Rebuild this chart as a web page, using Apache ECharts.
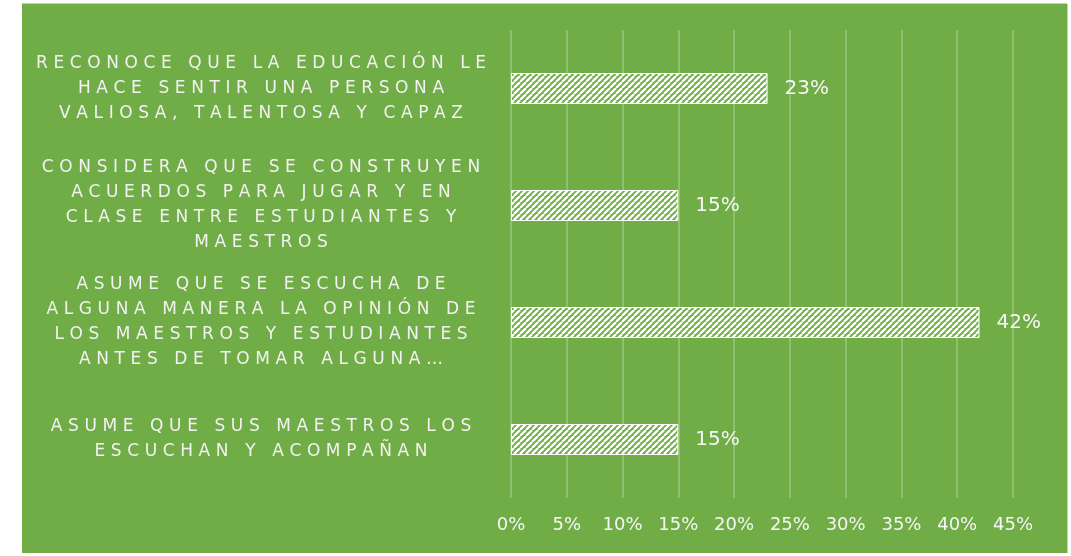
<!DOCTYPE html>
<html><head><meta charset="utf-8">
<script src="https://cdn.jsdelivr.net/npm/echarts@6/dist/echarts.min.js"></script>
<style>
html,body{margin:0;padding:0;background:#fff;width:1071px;height:556px;overflow:hidden;}
#frame{position:absolute;left:22px;top:4px;width:1045px;height:549px;background:#70AD47;box-shadow:0 -1px 0 #c9c9c9, 1px 0 0 #c9c9c9;}
#chart{width:100%;height:100%;}
</style></head><body>
<div id="frame"><div id="chart"></div></div>
<script>
const categories = [
  'RECONOCE QUE LA EDUCACIÓN LE\nHACE SENTIR UNA PERSONA\nVALIOSA, TALENTOSA Y CAPAZ',
  'CONSIDERA QUE SE CONSTRUYEN\nACUERDOS PARA JUGAR Y EN\nCLASE ENTRE ESTUDIANTES Y\nMAESTROS',
  'ASUME QUE SE ESCUCHA DE\nALGUNA MANERA LA OPINIÓN DE\nLOS MAESTROS Y ESTUDIANTES\nANTES DE TOMAR ALGUNA…',
  'ASUME QUE SUS MAESTROS LOS\nESCUCHAN Y ACOMPAÑAN'
];
const values = [0.23, 0.15, 0.42, 0.15];
const axisMin = 0, axisMax = 0.45, axisStep = 0.05;

function pct(v){ return Math.round(v * 100) + '%'; }
function spaced(s){
  return s.split('\n').map(l => Array.from(l).join('\u2004')).join('\n');
}
function hatch(){
  const p = 6, c = document.createElement('canvas');
  c.width = p; c.height = p;
  const g = c.getContext('2d');
  g.fillStyle = '#70AD47'; g.fillRect(0,0,p,p);
  g.strokeStyle = '#ffffff'; g.lineWidth = 2.3;
  for (let o = -p; o <= p; o += p){
    g.beginPath(); g.moveTo(o, p); g.lineTo(o + p, 0); g.stroke();
  }
  return c;
}

const chart = echarts.init(document.getElementById('chart'), null, {renderer:'canvas'});
chart.setOption({
  animation: false,
  backgroundColor: 'transparent',
  grid: {left: 489, right: 54, top: 26, bottom: 55, containLabel: false},
  xAxis: {
    type: 'value', min: axisMin, max: axisMax, interval: axisStep,
    axisLine: {show: false}, axisTick: {show: false},
    splitLine: {show: true, lineStyle: {color: 'rgba(255,255,255,0.3)', width: 1.5}},
    axisLabel: {color: '#f6f6f6', fontFamily: 'DejaVu Sans', fontSize: 18, margin: 18, formatter: pct}
  },
  yAxis: {
    type: 'category', data: categories, inverse: true,
    axisLine: {show: false}, axisTick: {show: false}, splitLine: {show: false},
    axisLabel: {
      color: '#f2f2f2', fontFamily: 'DejaVu Sans', fontSize: 17, lineHeight: 25,
      align: 'center', margin: 250, formatter: spaced
    }
  },
  series: [{
    type: 'bar', data: values, barWidth: 31,
    itemStyle: {color: {image: hatch(), repeat: 'repeat'}, borderColor: '#ffffff', borderWidth: 1},
    label: {show: true, position: 'right', distance: 17, color: '#f6f6f6',
      fontFamily: 'DejaVu Sans', fontSize: 20, formatter: p => pct(p.value)}
  }]
});
</script>
</body></html>
